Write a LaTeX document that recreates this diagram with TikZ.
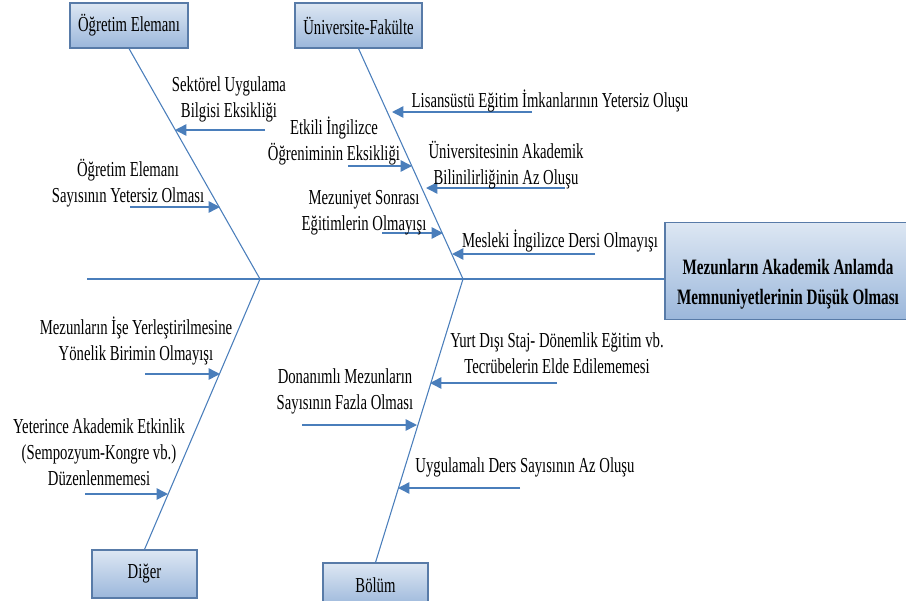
\documentclass[tikz,border=0pt]{standalone}
\usepackage{fontspec}
\setmainfont[FakeStretch=0.69]{Liberation Serif}
\usetikzlibrary{arrows.meta}
\definecolor{fbline}{HTML}{4A7EBB}
\definecolor{fbedge}{HTML}{587BA8}
\definecolor{fbtop}{HTML}{DDE7F3}
\definecolor{fbbot}{HTML}{9BB7DB}
\tikzset{
  catbox/.style={draw=fbedge,line width=0.8pt,top color=fbtop,bottom color=fbbot,inner sep=0pt,font=\fontsize{16}{19}\selectfont},
  bone/.style={draw=fbline,line width=0.8pt},
  cause/.style={draw=fbline,line width=1.1pt,-{Triangle[length=8.5pt,width=8.5pt]}},
  lbl/.style={align=center,inner sep=0pt,anchor=base,font=\fontsize{16}{19.5}\selectfont}
}
\begin{document}
\begin{tikzpicture}[x=0.75pt,y=-0.75pt]
\useasboundingbox (0,0) rectangle (906,600);
\pgfmathsetmacro{\kspine}{279}
\node[catbox,minimum width=88.5pt,minimum height=33.75pt](oe) at (129,25.5){Öğretim Elemanı};
\node[catbox,minimum width=95.25pt,minimum height=33.75pt](uf) at (358.5,25.5){Üniversite-Fakülte};
\node[catbox,minimum width=78.75pt,minimum height=36pt](dg) at (144.5,574){Diğer};
\node[catbox,minimum width=78.75pt,minimum height=33pt](bl) at (375.5,585){Bölüm};
\node[catbox,minimum width=184.5pt,minimum height=73pt](ef) at (788,271){};
\node[align=center,inner sep=0pt,font=\bfseries\fontsize{16.5}{22.5}\selectfont](eft) at (788,284){Mezunların Akademik Anlamda\\Memnuniyetlerinin Düşük Olması};
\coordinate (sp) at (87,\kspine);
\coordinate (ja) at (260,\kspine);
\coordinate (jb) at (463,\kspine);
\draw[bone,line width=1.1pt](sp)--(sp-|ef.west);
\draw[bone](oe.south)--(ja)--(dg.north);
\draw[bone](uf.south)--(jb)--(bl.north);
\foreach \n/\tx/\hx/\ay in {a/265/175/130,b/130/220/207,c/532/392/112,d/348/412/166,e/565/426/188,f/382/443/233,g/595/452/254,h/145/220/374,i/85/168/494,j/557/430/383,k/302/417/425,l/520/398/488}{
  \coordinate (t\n) at (\tx,\ay);
  \coordinate (h\n) at (\hx,\ay);
  \draw[cause](t\n)--(h\n);
}
\node[lbl](la) at (229,117){Sektörel Uygulama\\Bilgisi Eksikliği};
\node[lbl](lb) at (128,202){Öğretim Elemanı\\Sayısının Yetersiz Olması};
\node[lbl](lc) at (550,107){Lisansüstü Eğitim İmkanlarının Yetersiz Oluşu};
\node[lbl](ld) at (334,160){Etkili İngilizce\\Öğreniminin Eksikliği};
\node[lbl](le) at (506,184){Üniversitesinin Akademik\\Bilinilirliğinin Az Oluşu};
\node[lbl](lf) at (364,230){Mezuniyet Sonrası\\Eğitimlerin Olmayışı};
\node[lbl](lg) at (560,247){Mesleki İngilizce Dersi Olmayışı};
\node[lbl](lh) at (136,360){Mezunların İşe Yerleştirilmesine\\Yönelik Birimin Olmayışı};
\node[lbl](li) at (99,485){Yeterince Akademik Etkinlik\\(Sempozyum-Kongre vb.)\\Düzenlenmemesi};
\node[lbl](lj) at (557,373){Yurt Dışı Staj- Dönemlik Eğitim vb.\\Tecrübelerin Elde Edilememesi};
\node[lbl](lk) at (345,409){Donanımlı Mezunların\\Sayısının Fazla Olması};
\node[lbl](ll) at (525,472){Uygulamalı Ders Sayısının Az Oluşu};
\end{tikzpicture}
\end{document}
